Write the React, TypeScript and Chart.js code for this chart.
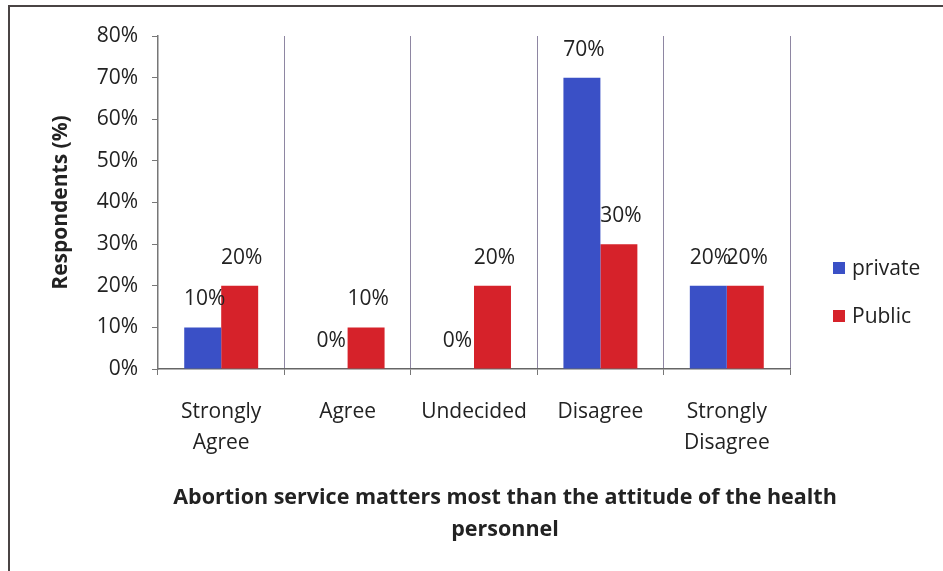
import React, { useEffect, useRef } from "react";
import { Chart, registerables } from "chart.js";

Chart.register(...registerables);

const categories: (string | string[])[] = [
  ["Strongly", "Agree"],
  "Agree",
  "Undecided",
  "Disagree",
  ["Strongly", "Disagree"],
];
const seriesNames = ["private", "Public"];
const privateValues = [10, 0, 0, 70, 20];
const publicValues = [20, 10, 20, 30, 20];
const yMax = 80;
const yStep = 10;
const xTitleLines = [
  "Abortion service matters most than the attitude of the health",
  "personnel",
];
const yTitle = "Respondents (%)";

const BLUE = "#3a50c6";
const RED = "#d6222a";
const TEXT = "#222222";
const FONT = "'Open Sans', 'Noto Sans', sans-serif";

const frame = {
  id: "frame",
  beforeDraw(chart: any) {
    const ctx = chart.ctx;
    ctx.save();
    ctx.fillStyle = "#ffffff";
    ctx.fillRect(0, 0, chart.width, chart.height);
    ctx.strokeStyle = "#4a4444";
    ctx.lineWidth = 2;
    ctx.beginPath();
    ctx.moveTo(9, chart.height);
    ctx.lineTo(9, 6);
    ctx.lineTo(chart.width, 6);
    ctx.stroke();
    ctx.restore();
  },
};

const extras = {
  id: "extras",
  afterDatasetsDraw(chart: any) {
    const ctx = chart.ctx;
    ctx.save();
    ctx.fillStyle = TEXT;
    ctx.font = `21px ${FONT}`;
    ctx.textAlign = "center";
    ctx.textBaseline = "middle";
    chart.data.datasets.forEach((ds: any, i: number) => {
      const meta = chart.getDatasetMeta(i);
      meta.data.forEach((bar: any, j: number) => {
        ctx.fillText(`${ds.data[j]}%`, bar.x + 2, bar.y - 28);
      });
    });
    ctx.restore();
  },
  afterDraw(chart: any) {
    const ctx = chart.ctx;
    const area = chart.chartArea;
    ctx.save();
    // legend
    const colors = [BLUE, RED];
    ctx.font = `21px ${FONT}`;
    ctx.textBaseline = "middle";
    ctx.textAlign = "left";
    seriesNames.forEach((name, i) => {
      const cy = area.top + 232 + i * 48;
      const lx = area.right + 43;
      ctx.fillStyle = colors[i];
      ctx.fillRect(lx, cy - 6, 12, 12);
      ctx.fillStyle = TEXT;
      ctx.fillText(name, lx + 19, cy + 1);
    });
    // x title
    ctx.font = `bold 21.5px ${FONT}`;
    ctx.textAlign = "center";
    const cx = (area.left + area.right) / 2 + 31;
    xTitleLines.forEach((line, i) => {
      ctx.fillText(line, cx, area.bottom + 129 + i * 32);
    });
    ctx.restore();
  },
};

export default function App() {
  const ref = useRef<HTMLCanvasElement>(null);
  useEffect(() => {
    document.body.style.margin = "0";
    document.body.style.overflow = "hidden";
    const chart = new Chart(ref.current!, {
      type: "bar",
      data: {
        labels: categories,
        datasets: [
          {
            label: seriesNames[0],
            data: privateValues,
            backgroundColor: BLUE,
            barPercentage: 1,
            categoryPercentage: 0.585,
          },
          {
            label: seriesNames[1],
            data: publicValues,
            backgroundColor: RED,
            barPercentage: 1,
            categoryPercentage: 0.585,
          },
        ],
      },
      options: {
        animation: false,
        responsive: false,
        layout: { padding: { left: 44, right: 153, top: 36, bottom: 102 } },
        plugins: {
          legend: { display: false },
          tooltip: { enabled: false },
        },
        scales: {
          x: {
            afterFit: (s: any) => {
              s.height = 100;
            },
            grid: {
              display: true,
              offset: true,
              color: "#8e86a2",
              drawTicks: true,
              tickLength: 6,
              tickColor: "#777777",
            },
            border: { color: "#666666", width: 1.5 },
            ticks: {
              color: TEXT,
              font: { family: FONT, size: 21, lineHeight: 1.5 },
              padding: 21,
              maxRotation: 0,
            },
          },
          y: {
            min: 0,
            max: yMax,
            afterFit: (s: any) => {
              s.width = 114;
            },
            grid: {
              drawOnChartArea: false,
              drawTicks: true,
              tickLength: 6,
              tickColor: "#777777",
            },
            border: { color: "#777777", width: 1.5 },
            ticks: {
              stepSize: yStep,
              color: TEXT,
              font: { family: FONT, size: 21 },
              padding: 14,
              callback: (v: any) => `${v}%`,
            },
            title: {
              display: true,
              text: yTitle,
              color: TEXT,
              font: { family: FONT, size: 21, weight: "bold" },
            },
          },
        },
      },
      plugins: [frame, extras],
    });
    return () => chart.destroy();
  }, []);
  return <canvas ref={ref} width={943} height={571} style={{ display: "block" }} />;
}
